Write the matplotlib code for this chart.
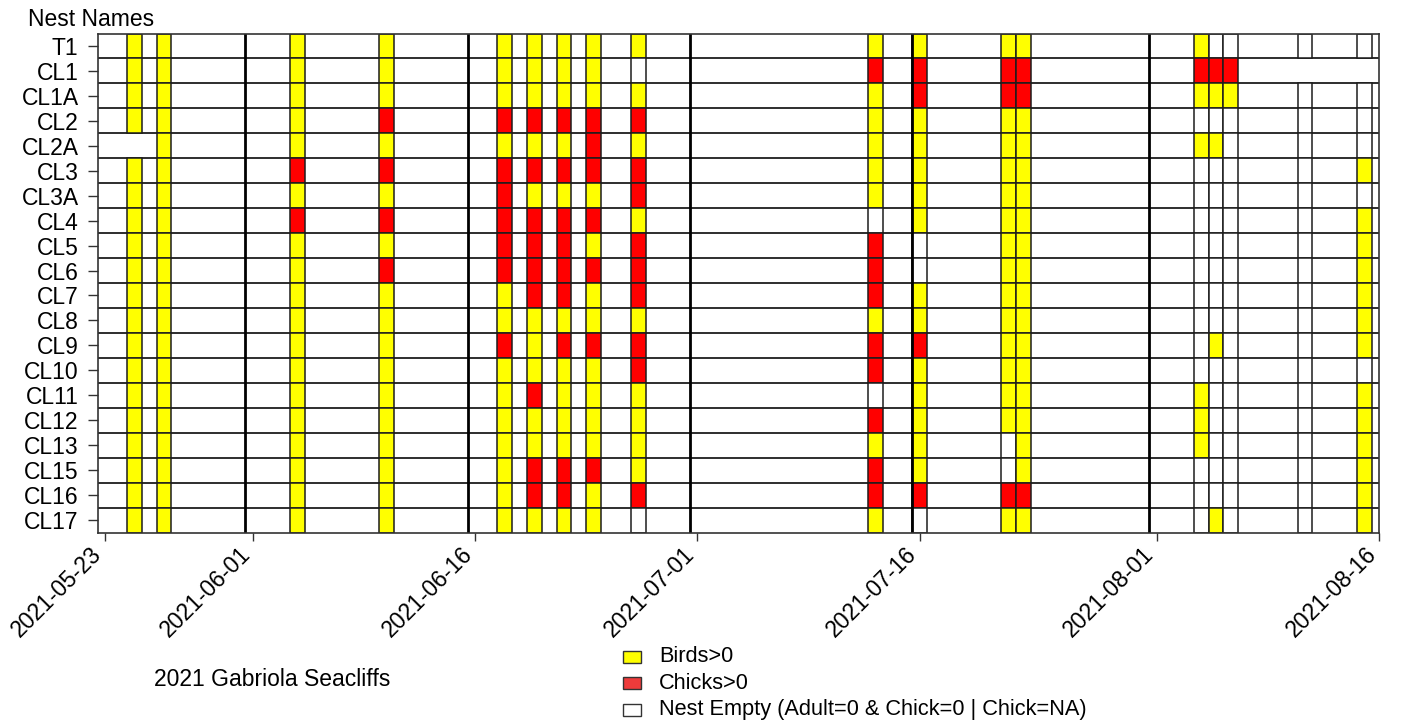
import numpy as np
import pandas as pd
import matplotlib
matplotlib.use("Agg")
import matplotlib.pyplot as plt
import matplotlib.dates as mdates
from matplotlib.patches import Rectangle

plt.rcParams['font.family'] = ['Liberation Sans', 'DejaVu Sans']

# Nest rows, top to bottom
nests = ["T1", "CL1", "CL1A", "CL2", "CL2A", "CL3", "CL3A", "CL4", "CL5", "CL6",
         "CL7", "CL8", "CL9", "CL10", "CL11", "CL12", "CL13", "CL15", "CL16", "CL17"]

# Survey visits
survey_dates = ["2021-05-24", "2021-05-26", "2021-06-04", "2021-06-10",
                "2021-06-18", "2021-06-20", "2021-06-22", "2021-06-24", "2021-06-27",
                "2021-07-13", "2021-07-16", "2021-07-22", "2021-07-23",
                "2021-08-04", "2021-08-05", "2021-08-06", "2021-08-11", "2021-08-15"]

# Status per nest and visit: Y = birds>0, R = chicks>0, W = empty, - = no record
status = [
    "YYYYYYYYYYYYYYWWWW",  # T1
    "YYYYYYYYWRRRRRRR--",  # CL1
    "YYYYYYYYYYRRRYYYWW",  # CL1A
    "YYYRRRRRRYYYYWWWWW",  # CL2
    "-YYYYYYRYYYYYYYWWW",  # CL2A
    "YYRRRRRRRYYYYWWWWY",  # CL3
    "YYYYRYYYRYYYYWWWWW",  # CL3A
    "YYRRRRRRYWYYYWWWWY",  # CL4
    "YYYYRRRYRRWYYWWWWY",  # CL5
    "YYYRRRRRRRWYYWWWWY",  # CL6
    "YYYYYRRYRRYYYWWWWY",  # CL7
    "YYYYYYYYYYYYYWWWWY",  # CL8
    "YYYYRYRRRRRYYWYWWY",  # CL9
    "YYYYYYYYRRYYYWWWWW",  # CL10
    "YYYYYRYYYWYYYYWWWY",  # CL11
    "YYYYYYYYYRYYYYWWWY",  # CL12
    "YYYYYYYYYYYWYYWWWY",  # CL13
    "YYYYYRRRYRYWYWWWWY",  # CL15
    "YYYYYRRYRRRRRWWWWY",  # CL16
    "YYYYYYYYWYWYYWYWWY",  # CL17
]

tick_labels = ["2021-05-23", "2021-06-01", "2021-06-16", "2021-07-01",
               "2021-07-16", "2021-08-01", "2021-08-16"]

legend_labels = ["Birds>0", "Chicks>0", "Nest Empty (Adult=0 & Chick=0 | Chick=NA)"]

cell_colors = {"Y": "#FFFF00", "R": "#FF0000", "W": "#FFFFFF"}
legend_colors = ["#FFFF00", "#EE3B3B", "#FFFFFF"]
line_col = "#1c1c1c"

W, H, DPI = 1401, 723, 100
fig = plt.figure(figsize=(W / DPI, H / DPI), dpi=DPI)


def fx(px):
    return px / W


def fy(py):
    return 1 - py / H


ax = fig.add_axes([fx(98), fy(532.5), fx(1379) - fx(98), fy(33.5) - fy(532.5)])

xs = mdates.date2num(pd.to_datetime(survey_dates))
ticks = mdates.date2num(pd.to_datetime(tick_labels))

x_left = ticks[0] - 1.45
x_right = xs[-1] + 0.5
ticks[0] = x_left + 0.45  # first label sits at the start of the range

# row separators
for i in range(len(nests) - 1):
    ax.axhline(i + 0.5, color=line_col, lw=1.3, zorder=1)

# one cell per nest and visit
for i, row in enumerate(status):
    for xd, s in zip(xs, row):
        if s == "-":
            continue
        ax.add_patch(Rectangle((xd - 0.5, i - 0.5), 1, 1, facecolor=cell_colors[s],
                               edgecolor=line_col, lw=1.1, zorder=2))

# half-month markers
for t in ticks[1:-1]:
    ax.axvline(t - 0.5, color="black", lw=2.0, zorder=3)

ax.set_xlim(x_left, x_right)
ax.set_ylim(len(nests) - 0.5, -0.5)

ax.set_yticks(range(len(nests)))
ax.set_yticklabels(nests, fontsize=16.5)
ax.tick_params(axis="y", length=7, width=1.0, pad=7, color="#333333")

ax.set_xticks(ticks)
ax.set_xticklabels([])
ax.tick_params(axis="x", length=6, width=1.0, color="#333333")
for t, lab in zip(ticks, tick_labels):
    ax.annotate(lab, xy=(t, 0), xycoords=("data", "axes fraction"),
                xytext=(-4.5, -13), textcoords="offset points",
                rotation=45, ha="right", va="center", rotation_mode="anchor",
                fontsize=16.5, annotation_clip=False)

for sp in ax.spines.values():
    sp.set_color("#333333")
    sp.set_linewidth(1.2)
    sp.set_zorder(4)

fig.text(fx(28), fy(20), "Nest Names", fontsize=16.5, ha="left", va="center")
fig.text(fx(154), fy(680), "2021 Gabriola Seacliffs", fontsize=16.5, ha="left", va="center")

# legend
for k, (lab, col) in enumerate(zip(legend_labels, legend_colors)):
    cy = 657 + 26.3 * k
    fig.add_artist(Rectangle((fx(623), fy(cy + 6)), fx(641) - fx(623), fy(cy - 6) - fy(cy + 6),
                             transform=fig.transFigure, facecolor=col,
                             edgecolor="#333333", lw=1.0))
    fig.text(fx(659), fy(cy), lab, fontsize=15.7, ha="left", va="center")

fig.savefig("out.png", dpi=DPI)
